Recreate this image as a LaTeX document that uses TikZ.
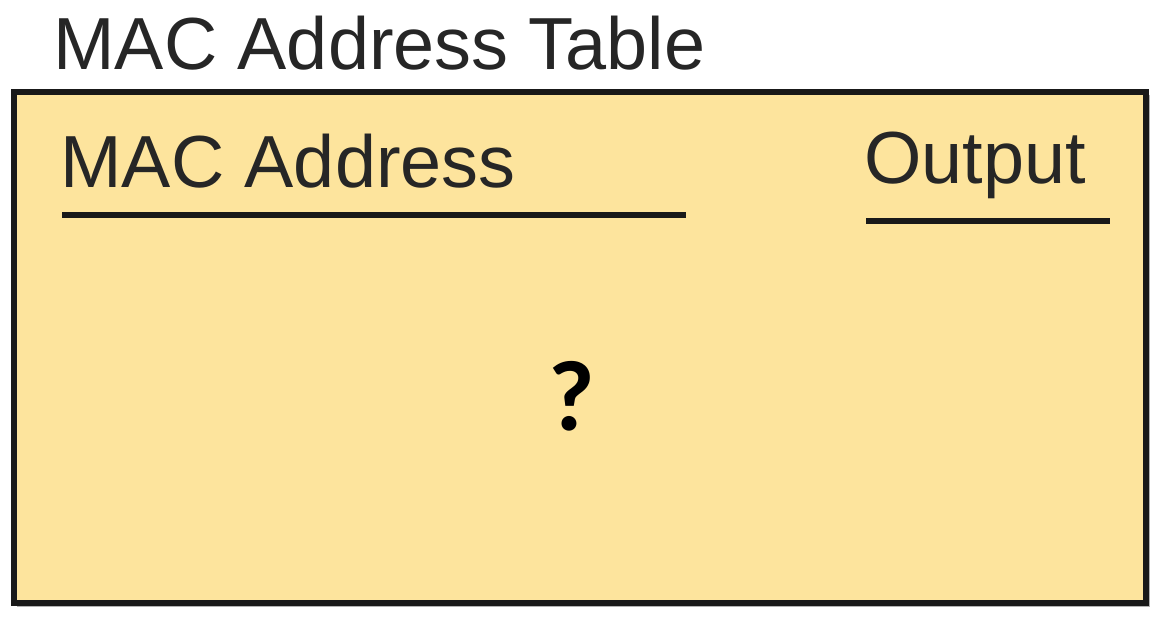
\documentclass[tikz,border=0pt]{standalone}
\usepackage{fontspec}
\setmainfont{Liberation Sans}
\newfontfamily\qmarkfont{Carlito}
\definecolor{tablefill}{RGB}{253,228,157}
\begin{document}
\begin{tikzpicture}[
			x=0.02cm, y=-0.02cm,
			tablebox/.style={draw=black!90, line width=0.12cm, fill=tablefill, inner sep=0pt},
			label text/.style={inner sep=0pt, anchor=base west, font=\fontsize{42}{48}\selectfont, text=black!85},
			underline/.style={line width=0.13cm, black!90}
		]
		\useasboundingbox (0,0) rectangle (1159,625);
		\fill[black!30] (17,95) rectangle (1150,607);
		\node[tablebox, minimum width=22.64cm, minimum height=10.22cm] (table) at (580,347.5) {};
		\node[label text] (title) at (53,70) {MAC Address Table};
		\node[label text] (macaddr) at (60,187) {MAC Address};
		\node[label text] (output) at (864,183) {Output};
		\node[inner sep=0pt, font=\qmarkfont\bfseries\fontsize{57}{62}\selectfont] (query) at (572,396) {?};
		\coordinate (macaddr line a) at (62,215);
		\coordinate (macaddr line b) at (686,215);
		\coordinate (output line a) at (866,221);
		\coordinate (output line b) at (1110,221);
		\draw[underline] (macaddr line a) -- (macaddr line b);
		\draw[underline] (output line a) -- (output line b);
	\end{tikzpicture}
\end{document}
